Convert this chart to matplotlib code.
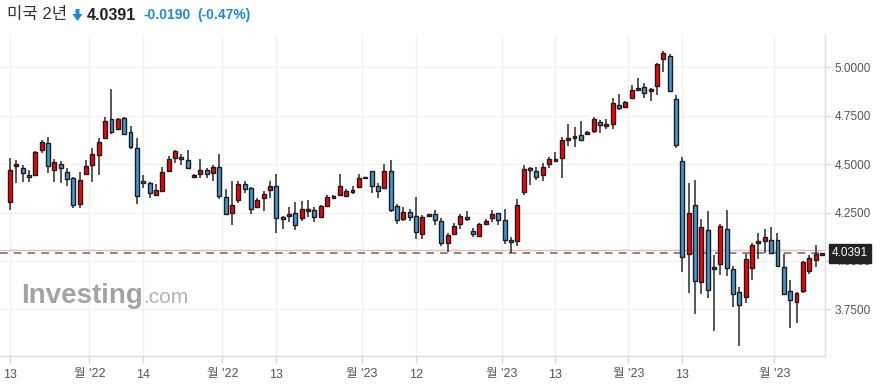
import matplotlib
matplotlib.use("Agg")
import matplotlib.pyplot as plt
from matplotlib.patches import Polygon

# ---------------- data ----------------
opens = [4.303, 4.490, 4.482, 4.444, 4.442, 4.571, 4.607, 4.468, 4.501, 4.458,
         4.427, 4.292, 4.447, 4.494, 4.545, 4.633, 4.731, 4.680, 4.738, 4.664,
         4.581, 4.411, 4.401, 4.339, 4.363, 4.466, 4.530, 4.535, 4.519, 4.432,
         4.447, 4.468, 4.452, 4.483, 4.328, 4.246, 4.313, 4.395, 4.375, 4.277,
         4.323, 4.364, 4.385, 4.225, 4.230, 4.246, 4.220, 4.256, 4.261, 4.225,
         4.282, 4.323, 4.339, 4.333, 4.354, 4.380, 4.427, 4.463, 4.385, 4.375,
         4.463, 4.282, 4.215, 4.251, 4.230, 4.137, 4.230, 4.240, 4.204, 4.091,
         4.137, 4.189, 4.225, 4.153, 4.127, 4.189, 4.220, 4.247, 4.210, 4.106,
         4.101, 4.354, 4.478, 4.463, 4.442, 4.499, 4.514, 4.530, 4.623, 4.633,
         4.649, 4.654, 4.669, 4.716, 4.695, 4.705, 4.804, 4.793, 4.840, 4.881,
         4.897, 4.876, 4.902, 5.041, 5.057, 4.835, 4.514, 4.034, 4.287, 3.889,
         4.158, 3.957, 3.982, 4.163, 3.957, 3.838, 3.812, 3.962, 4.091, 4.101,
         4.106, 4.106, 3.967, 3.843, 3.786, 3.843, 3.946, 4.003, 4.029]
highs = [4.533, 4.521, 4.495, 4.471, 4.569, 4.625, 4.638, 4.526, 4.518, 4.478,
         4.435, 4.458, 4.523, 4.581, 4.633, 4.745, 4.886, 4.737, 4.742, 4.699,
         4.633, 4.444, 4.409, 4.399, 4.487, 4.542, 4.573, 4.552, 4.573, 4.447,
         4.525, 4.482, 4.494, 4.550, 4.370, 4.411, 4.411, 4.411, 4.380, 4.323,
         4.359, 4.411, 4.447, 4.230, 4.277, 4.302, 4.308, 4.313, 4.277, 4.287,
         4.339, 4.339, 4.447, 4.370, 4.385, 4.447, 4.428, 4.463, 4.401, 4.500,
         4.519, 4.292, 4.277, 4.266, 4.328, 4.235, 4.240, 4.261, 4.220, 4.142,
         4.194, 4.240, 4.256, 4.168, 4.194, 4.215, 4.261, 4.250, 4.266, 4.122,
         4.318, 4.494, 4.483, 4.483, 4.504, 4.535, 4.561, 4.638, 4.705, 4.690,
         4.721, 4.669, 4.742, 4.726, 4.731, 4.840, 4.860, 4.824, 4.907, 4.943,
         4.917, 4.891, 5.020, 5.083, 5.067, 4.855, 4.535, 4.401, 4.416, 4.215,
         4.256, 4.029, 4.189, 4.261, 3.972, 3.863, 4.034, 4.091, 4.142, 4.163,
         4.173, 4.142, 4.034, 3.900, 3.838, 3.998, 4.029, 4.080, 4.041]
lows = [4.263, 4.401, 4.406, 4.406, 4.439, 4.559, 4.452, 4.409, 4.401, 4.387,
        4.272, 4.272, 4.444, 4.406, 4.444, 4.630, 4.654, 4.676, 4.654, 4.578,
        4.292, 4.378, 4.323, 4.335, 4.354, 4.461, 4.504, 4.495, 4.473, 4.432,
        4.426, 4.426, 4.411, 4.318, 4.235, 4.184, 4.297, 4.349, 4.240, 4.272,
        4.256, 4.323, 4.142, 4.163, 4.199, 4.158, 4.204, 4.225, 4.199, 4.220,
        4.277, 4.323, 4.333, 4.328, 4.344, 4.375, 4.425, 4.349, 4.323, 4.370,
        4.251, 4.189, 4.204, 4.204, 4.111, 4.111, 4.230, 4.184, 4.075, 4.044,
        4.132, 4.163, 4.204, 4.122, 4.122, 4.184, 4.199, 4.184, 4.086, 4.039,
        4.075, 4.339, 4.390, 4.416, 4.411, 4.478, 4.509, 4.426, 4.592, 4.587,
        4.618, 4.654, 4.659, 4.659, 4.680, 4.680, 4.778, 4.788, 4.835, 4.876,
        4.840, 4.824, 4.855, 4.974, 4.871, 4.581, 3.941, 3.832, 3.724, 3.827,
        3.807, 3.636, 3.925, 3.920, 3.760, 3.559, 3.781, 3.900, 4.008, 4.039,
        4.034, 3.972, 3.822, 3.652, 3.678, 3.832, 3.931, 3.967, 4.029]
closes = [4.468, 4.499, 4.452, 4.432, 4.561, 4.613, 4.489, 4.509, 4.478, 4.421,
          4.287, 4.416, 4.490, 4.550, 4.613, 4.721, 4.664, 4.731, 4.657, 4.587,
          4.334, 4.401, 4.349, 4.365, 4.461, 4.528, 4.566, 4.525, 4.478, 4.442,
          4.468, 4.447, 4.483, 4.333, 4.240, 4.287, 4.395, 4.370, 4.266, 4.313,
          4.344, 4.385, 4.220, 4.215, 4.240, 4.184, 4.266, 4.266, 4.225, 4.282,
          4.328, 4.333, 4.385, 4.359, 4.364, 4.426, 4.426, 4.385, 4.359, 4.463,
          4.261, 4.209, 4.251, 4.225, 4.151, 4.225, 4.240, 4.209, 4.091, 4.132,
          4.178, 4.230, 4.215, 4.137, 4.189, 4.204, 4.240, 4.210, 4.106, 4.096,
          4.287, 4.473, 4.468, 4.432, 4.483, 4.525, 4.525, 4.623, 4.633, 4.643,
          4.623, 4.664, 4.731, 4.700, 4.705, 4.814, 4.788, 4.819, 4.881, 4.891,
          4.866, 4.886, 5.015, 5.072, 4.876, 4.597, 4.018, 4.246, 3.896, 4.173,
          3.848, 3.967, 4.179, 3.962, 3.827, 3.770, 4.008, 4.080, 4.101, 4.122,
          4.039, 3.972, 3.827, 3.796, 3.832, 3.993, 4.013, 4.034, 4.039]

tick_pos = [0, 12.5, 21, 33.5, 42, 55.5, 64, 77.5, 86, 97.5, 106, 120.5]
tick_labels = ["13", "월 '22", "14", "월 '22", "13", "월 '23", "12", "월 '23",
               "13", "월 '23", "13", "월 '23"]
y_ticks = [3.75, 4.00, 4.25, 4.50, 4.75, 5.00]

title_name = "미국 2년"
last_price = 4.0391
prev_close = 4.0581
change_txt = "-0.0190"
change_pct_txt = "(-0.47%)"

# ---------------- style ----------------
plt.rcParams["font.family"] = ["Liberation Sans", "Noto Sans CJK KR", "DejaVu Sans"]

W, H = 884, 391
fig = plt.figure(figsize=(W / 100, H / 100), dpi=100)
fig.patch.set_facecolor("white")

def fx(px):
    return px / W

def fy(py):
    return 1 - py / H

ax = fig.add_axes([0, fy(356), fx(825), (356 - 35) / H])
ax.set_facecolor("white")

UP = "#ff0000"
DOWN = "#4196d8"
EDGE = "#1c1c1c"

n = len(closes)
xs = list(range(n))
ax.vlines(xs, lows, highs, color="#2a2a2a", linewidth=1.1, zorder=3)
bottoms = [min(o, c) for o, c in zip(opens, closes)]
heights = [max(abs(c - o), 0.006) for o, c in zip(opens, closes)]
colors = [UP if c >= o else DOWN for o, c in zip(opens, closes)]
ax.bar(xs, heights, bottom=bottoms, width=0.62, color=colors,
       edgecolor=EDGE, linewidth=1.0, zorder=4)

# price lines
ax.axhline(prev_close, color="#f5b5b5", linewidth=1.0, zorder=2)
ax.axhline(last_price, color="#666666", linewidth=1.1, linestyle=(0, (5, 4)), zorder=2)

ax.set_xlim(-1.577, 128.49)
ax.set_ylim(3.509, 5.167)

ax.set_xticks(tick_pos)
ax.set_xticklabels(tick_labels)
ax.set_yticks(y_ticks)
ax.set_yticklabels([f"{v:.4f}" for v in y_ticks])
ax.yaxis.tick_right()
ax.tick_params(axis="x", colors="#d8d8d8", labelcolor="#555555", labelsize=9,
               length=5, width=1, pad=4)
ax.tick_params(axis="y", colors="#d8d8d8", labelcolor="#555555", labelsize=8.5,
               length=4, width=1, pad=3)
ax.grid(True, color="#f1f1f1", linewidth=1.0, zorder=0)
ax.set_axisbelow(True)
for s in ["top", "left"]:
    ax.spines[s].set_visible(False)
for s in ["bottom", "right"]:
    ax.spines[s].set_color("#dcdcdc")
    ax.spines[s].set_linewidth(1.0)

# last price label box
ax.annotate(f"{last_price:.4f}", xy=(1.0, last_price),
            xycoords=("axes fraction", "data"), xytext=(5, 0),
            textcoords="offset points", ha="left", va="center",
            fontsize=8.5, color="white", zorder=10, annotation_clip=False,
            bbox=dict(boxstyle="square,pad=0.28", fc="#222222", ec="#222222"))

# watermark
fig.text(fx(21), fy(303), "Investing", fontsize=20, fontweight="bold",
         color="#a3a3a3", va="baseline", ha="left", zorder=0)
fig.text(fx(143), fy(303), ".com", fontsize=15, color="#b3b3b3",
         va="baseline", ha="left", zorder=0)

# header
fig.text(fx(7), fy(15), title_name, fontsize=12, color="#333333",
         va="center", ha="left")
arrow = Polygon([(fx(75.5), fy(9)), (fx(79.5), fy(9)), (fx(79.5), fy(14)),
                 (fx(82.5), fy(14)), (fx(77.5), fy(21)), (fx(72.5), fy(14)),
                 (fx(75.5), fy(14))], closed=True, transform=fig.transFigure,
                facecolor="#1e88e5", edgecolor="none")
fig.patches.append(arrow)
fig.text(fx(87), fy(15), f"{last_price:.4f}", fontsize=11.5, fontweight="bold",
         color="#222222", va="center", ha="left")
fig.text(fx(143), fy(15), change_txt, fontsize=10, fontweight="bold",
         color="#1e88e5", va="center", ha="left")
fig.text(fx(197), fy(15), change_pct_txt, fontsize=10, fontweight="bold",
         color="#1e88e5", va="center", ha="left")

fig.savefig("out.png", dpi=100, facecolor="white")
